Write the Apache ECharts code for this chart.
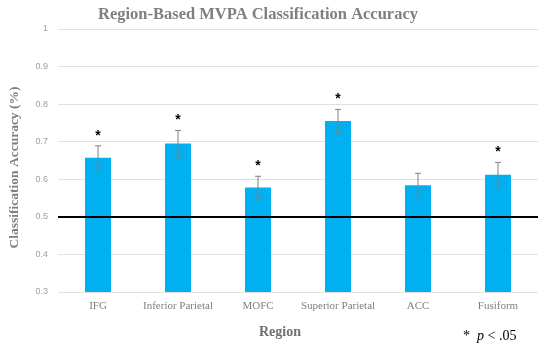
<!DOCTYPE html>
<html><head><meta charset="utf-8">
<script src="https://cdn.jsdelivr.net/npm/echarts@6/dist/echarts.min.js"></script>
<style>html,body{margin:0;padding:0;background:#fff}#c{width:550px;height:348px}</style>
</head><body><div id="c"></div>
<script>
const categories = ['IFG','Inferior Parietal','MOFC','Superior Parietal','ACC','Fusiform'];
const accuracy = [0.657, 0.695, 0.578, 0.755, 0.584, 0.612];
const errors = [0.032, 0.035, 0.030, 0.031, 0.032, 0.033];
const significant = [true, true, true, true, false, true];
const chanceLevel = 0.5;

const chart = echarts.init(document.getElementById('c'));
const serif = '"Liberation Serif","DejaVu Serif",serif';
chart.setOption({
  animation: false,
  title: {
    text: 'Region-Based MVPA Classification Accuracy',
    left: 253, top: 1, textAlign: 'center',
    textStyle: {fontFamily: serif, fontWeight: 'bold', fontSize: 16.5, color: '#7f7f7f'}
  },
  grid: {left: 49, right: 12, top: 29, bottom: 56},
  xAxis: {
    type: 'category', data: categories,
    axisLine: {show: false}, axisTick: {show: false},
    axisLabel: {fontFamily: serif, fontSize: 11, color: '#7f7f7f', margin: 9, interval: 0},
    name: 'Region', nameLocation: 'middle', nameGap: 33,
    nameTextStyle: {fontFamily: serif, fontWeight: 'bold', fontSize: 14, color: '#707070', padding: [0, 36, 0, 0]}
  },
  yAxis: {
    type: 'value', min: 0.3, max: 1, interval: 0.1,
    axisLine: {show: false}, axisTick: {show: false},
    splitLine: {lineStyle: {color: '#e0e0e0', width: 1}},
    axisLabel: {fontFamily: '"Liberation Sans",sans-serif', fontSize: 9, color: '#a0a0a0', margin: 10,
      formatter: v => (Math.round(v*10)/10).toString()},
    name: 'Classification Accuracy (%)', nameLocation: 'middle', nameGap: 36,
    nameTextStyle: {fontFamily: serif, fontWeight: 'bold', fontSize: 13.5, color: '#7f7f7f', padding: [0, 14, 0, 0]}
  },
  series: [
    {
      type: 'bar', data: accuracy, barWidth: 26,
      itemStyle: {color: '#00b0f0'},
      markLine: {
        silent: true, symbol: 'none', label: {show: false},
        lineStyle: {color: '#000', width: 2, type: 'solid'},
        data: [{yAxis: chanceLevel}]
      }
    },
    {
      type: 'custom',
      data: accuracy.map((v, i) => [i, v - errors[i], v + errors[i], significant[i] ? 1 : 0]),
      renderItem: function (params, api) {
        const x = api.coord([api.value(0), api.value(1)])[0];
        const lo = api.coord([api.value(0), api.value(1)])[1];
        const hi = api.coord([api.value(0), api.value(2)])[1];
        const cap = 3;
        const style = {stroke: '#808080', lineWidth: 1};
        const children = [
          {type: 'line', shape: {x1: x, y1: lo, x2: x, y2: hi}, style},
          {type: 'line', shape: {x1: x - cap, y1: hi, x2: x + cap, y2: hi}, style},
          {type: 'line', shape: {x1: x - cap, y1: lo, x2: x + cap, y2: lo}, style}
        ];
        if (api.value(3)) {
          children.push({type: 'text', style: {text: '*', x: x, y: hi - 3, align: 'center', verticalAlign: 'bottom',
            font: 'bold 14px "Liberation Sans",sans-serif', fill: '#000'}});
        }
        return {type: 'group', children};
      },
      z: 3
    }
  ],
  graphic: [{
    type: 'text', left: 463, top: 329,
    style: {rich: {a: {fontFamily: serif, fontSize: 14, fill: '#000'}, b: {fontFamily: serif, fontSize: 14, fontStyle: 'italic', fill: '#000'}},
      text: '{a|*  }{b|p}{a| < .05}'}
  }]
});
</script></body></html>
